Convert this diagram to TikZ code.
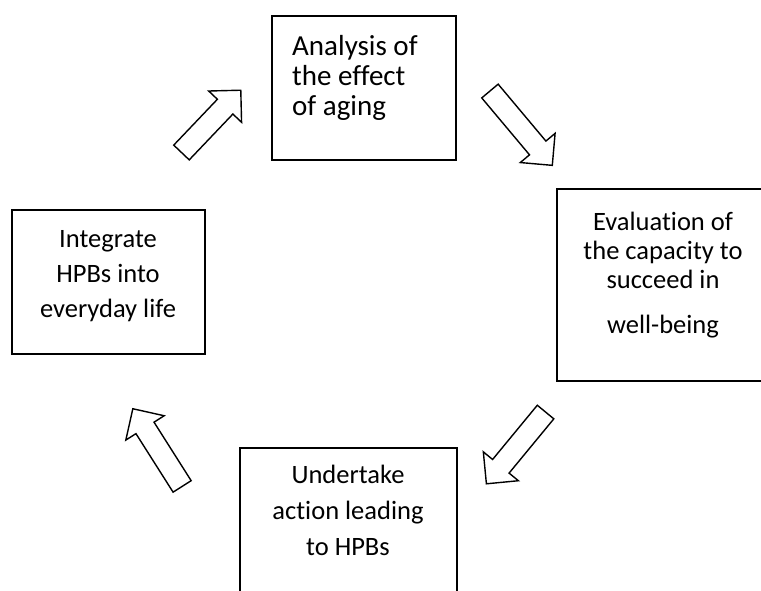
\documentclass[tikz,border=0pt]{standalone}
\usepackage{fontspec}
\setmainfont{Carlito}[Ligatures=CommonOff]
\usetikzlibrary{shapes.arrows}

\tikzset{
  stagebox/.style={draw,line width=1.8pt,inner sep=0pt},
  stagetext/.style={align=center,inner sep=0pt,font=\fontsize{26.5}{35}\selectfont},
  blockarrow/.style={single arrow,draw,line width=1.4pt,fill=white,inner xsep=0pt,inner ysep=10pt,
    single arrow head extend=12pt,single arrow head indent=0pt,anchor=tail},
}

\begin{document}
\begin{tikzpicture}[x=1pt,y=-1pt]
  \clip (0,0) rectangle (761,590);
  \fill[white] (0,0) rectangle (761,590);
  % boxes
  \node[stagebox,minimum width=184,minimum height=144] (aging) at (364,88) {};
  \node[stagebox,minimum width=220,minimum height=192] (capacity) at (667,285) {};
  \node[stagebox,minimum width=193,minimum height=144] (integrate) at (108.5,282) {};
  \node[stagebox,minimum width=217,minimum height=182] (action) at (348.5,539) {};
  % texts (base = last line)
  \node[stagetext,align=left,anchor=base west,font=\fontsize{29}{30}\selectfont]
    (agingtxt) at (292,115) {Analysis of\\the effect\\of aging};
  \node[stagetext,anchor=base,font=\fontsize{26.5}{29}\selectfont]
    (capacitytxt) at (663,333) {Evaluation of\\the capacity to\\succeed in\\[16pt]well-being};
  \node[stagetext,anchor=base] (integratetxt) at (108,317)
    {Integrate\\HPBs into\\everyday life};
  \node[stagetext,anchor=base,font=\fontsize{26.5}{36}\selectfont]
    (actiontxt) at (348,555) {Undertake\\action leading\\to HPBs};
  % block arrows
  \node[blockarrow,rotate=46.4,minimum height=86] (arrA) at (181,153) {};
  \node[blockarrow,rotate=-50,minimum height=97] (arrB) at (489.5,90.5) {};
  \node[blockarrow,rotate=-129.5,minimum height=93] (arrC) at (546,411.5) {};
  \node[blockarrow,rotate=122.4,minimum height=92] (arrD) at (182.5,487) {};
\end{tikzpicture}
\end{document}
